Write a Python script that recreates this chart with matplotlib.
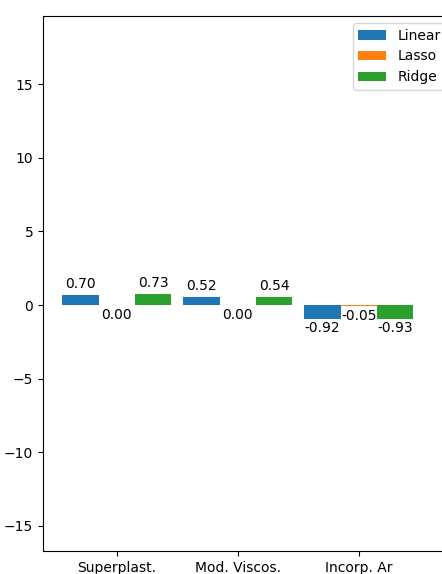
import matplotlib
matplotlib.use("Agg")
import matplotlib.pyplot as plt
import numpy as np

# Coefficients per feature for each regression model
features = ["Superplast.", "Mod. Viscos.", "Incorp. Ar"]
linear_coef = [0.70, 0.52, -0.92]
lasso_coef = [0.00, 0.00, -0.05]
ridge_coef = [0.73, 0.54, -0.93]
model_names = ["Linear", "Lasso", "Ridge"]

W, H = 442, 574
fig = plt.figure(figsize=(W / 100, H / 100), dpi=100)
# axes runs past the right edge of the canvas
ax = fig.add_axes([43 / W, (H - 551) / H, (453 - 43) / W, (551 - 16) / H])

x = np.arange(len(features))
width = 0.3
colors = ["#1f77b4", "#ff7f0e", "#2ca02c"]

for i, (name, coefs) in enumerate(zip(model_names, [linear_coef, lasso_coef, ridge_coef])):
    pos = x + (i - 1) * width
    ax.bar(pos, coefs, width, label=name, color=colors[i])
    for px, v in zip(pos, coefs):
        if v > 0:
            ax.annotate(f"{v:.2f}", (px, v), xytext=(0, 3), textcoords="offset points",
                        ha="center", va="bottom", fontsize=10)
        else:
            ax.annotate(f"{v:.2f}", (px, v), xytext=(0, -2), textcoords="offset points",
                        ha="center", va="top", fontsize=10)

ax.set_xticks(x)
ax.set_xticklabels(features)
ax.set_xlim(-0.61, 2.78)
ax.set_ylim(-16.7, 19.62)
ax.set_yticks([-15, -10, -5, 0, 5, 10, 15])
ax.legend(loc="upper right")

fig.savefig("out.png", dpi=100)
